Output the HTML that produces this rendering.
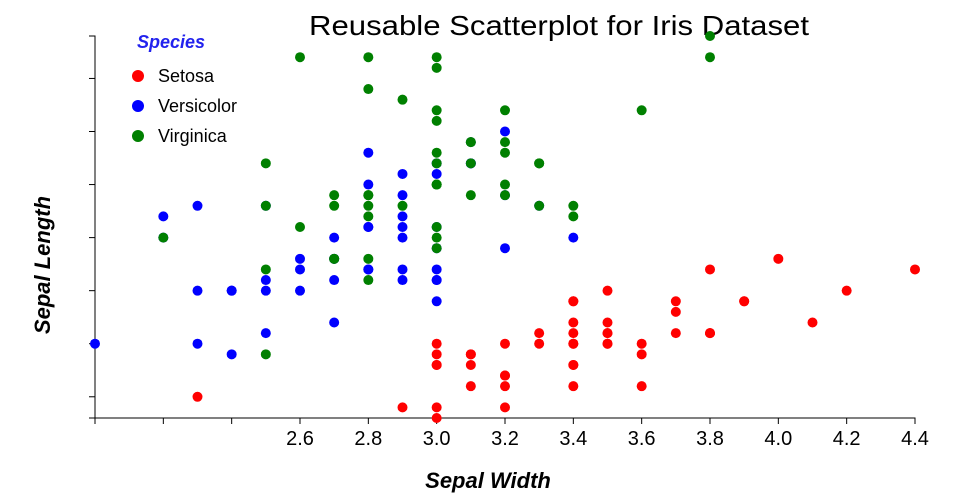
<!DOCTYPE html>
<html><head><meta charset="utf-8"><style>
body{margin:0;background:#fff;}
svg{display:block;font-family:"Liberation Sans",sans-serif;}
</style></head><body>
<svg id="chart" width="960" height="500">
<text x="559" y="35" text-anchor="middle" font-size="28" textLength="500" lengthAdjust="spacingAndGlyphs" fill="#000">Reusable Scatterplot for Iris Dataset</text>
<g id="xaxis"></g>
<g id="yaxis"></g>
<g id="points"></g>
<text x="488" y="488" text-anchor="middle" font-size="22" font-style="italic" font-weight="bold">Sepal Width</text>
<text transform="translate(50,265) rotate(-90)" text-anchor="middle" font-size="22" font-style="italic" font-weight="bold">Sepal Length</text>
<g>
<text x="137" y="48" font-size="18" font-style="italic" font-weight="bold" fill="#2222ee">Species</text>
<g><circle cx="138" cy="76" r="6" fill="red"/><text x="158" y="82" font-size="18">Setosa</text></g>
<g><circle cx="138" cy="106" r="6" fill="blue"/><text x="158" y="112" font-size="18">Versicolor</text></g>
<g><circle cx="138" cy="136" r="6" fill="green"/><text x="158" y="142" font-size="18">Virginica</text></g>
</g>
</svg>
<script>
const xTicks=[2.0,2.2,2.4,2.6,2.8,3.0,3.2,3.4,3.6,3.8,4.0,4.2,4.4];
const xTickLabels=["","","","2.6","2.8","3.0","3.2","3.4","3.6","3.8","4.0","4.2","4.4"];
const yTicks=[4.5,5.0,5.5,6.0,6.5,7.0,7.5];
const setosaLength=[5.1,4.9,4.7,4.6,5.0,5.4,4.6,5.0,4.4,4.9,5.4,4.8,4.8,4.3,5.8,5.7,5.4,5.1,5.7,5.1,5.4,5.1,4.6,5.1,4.8,5.0,5.0,5.2,5.2,4.7,4.8,5.4,5.2,5.5,4.9,5.0,5.5,4.9,4.4,5.1,5.0,4.5,4.4,5.0,5.1,4.8,5.1,4.6,5.3,5.0];
const setosaWidth=[3.5,3.0,3.2,3.1,3.6,3.9,3.4,3.4,2.9,3.1,3.7,3.4,3.0,3.0,4.0,4.4,3.9,3.5,3.8,3.8,3.4,3.7,3.6,3.3,3.4,3.0,3.4,3.5,3.4,3.2,3.1,3.4,4.1,4.2,3.1,3.2,3.5,3.6,3.0,3.4,3.5,2.3,3.2,3.5,3.8,3.0,3.8,3.2,3.7,3.3];
const versicolorLength=[7.0,6.4,6.9,5.5,6.5,5.7,6.3,4.9,6.6,5.2,5.0,5.9,6.0,6.1,5.6,6.7,5.6,5.8,6.2,5.6,5.9,6.1,6.3,6.1,6.4,6.6,6.8,6.7,6.0,5.7,5.5,5.5,5.8,6.0,5.4,6.0,6.7,6.3,5.6,5.5,5.5,6.1,5.8,5.0,5.6,5.7,5.7,6.2,5.1,5.7];
const versicolorWidth=[3.2,3.2,3.1,2.3,2.8,2.8,3.3,2.4,2.9,2.7,2.0,3.0,2.2,2.9,2.9,3.1,3.0,2.7,2.2,2.5,3.2,2.8,2.5,2.8,2.9,3.0,2.8,3.0,2.9,2.6,2.4,2.4,2.7,2.7,3.0,3.4,3.1,2.3,3.0,2.5,2.6,3.0,2.6,2.3,2.7,3.0,2.9,2.9,2.5,2.8];
const virginicaLength=[6.3,5.8,7.1,6.3,6.5,7.6,4.9,7.3,6.7,7.2,6.5,6.4,6.8,5.7,5.8,6.4,6.5,7.7,7.7,6.0,6.9,5.6,7.7,6.3,6.7,7.2,6.2,6.1,6.4,7.2,7.4,7.9,6.4,6.3,6.1,7.7,6.3,6.4,6.0,6.9,6.7,6.9,5.8,6.8,6.7,6.7,6.3,6.5,6.2,5.9];
const virginicaWidth=[3.3,2.7,3.0,2.9,3.0,3.0,2.5,2.9,2.5,3.6,3.2,2.7,3.0,2.5,2.8,3.2,3.0,3.8,2.6,2.2,3.2,2.8,2.8,2.7,3.3,3.2,2.8,3.0,2.8,3.0,2.8,3.8,2.8,2.8,2.6,3.0,3.4,3.1,3.0,3.1,3.1,3.1,2.7,3.2,3.3,3.0,2.5,3.0,3.4,3.0];
const NS="http://www.w3.org/2000/svg";
const X0=95,X1=915,Y0=418,Y1=36,XMIN=2.0,XMAX=4.4,YMIN=4.3,YMAX=7.9;
function sx(v){return X0+(v-XMIN)/(XMAX-XMIN)*(X1-X0);}
function sy(v){return Y0-(v-YMIN)/(YMAX-YMIN)*(Y0-Y1);}
function mk(tag,attrs,parent){const e=document.createElementNS(NS,tag);for(const k in attrs)e.setAttribute(k,attrs[k]);parent.appendChild(e);return e;}
const xa=document.getElementById('xaxis'),ya=document.getElementById('yaxis'),pg=document.getElementById('points');
mk('path',{d:`M${X0},${Y0+6}V${Y0}H${X1}V${Y0+6}`,fill:'none',stroke:'#000'},xa);
xTicks.forEach((t,i)=>{const g=mk('g',{},xa);


mk('line',{x1:sx(t),x2:sx(t),y1:Y0,y2:Y0+6,stroke:'#000'},g);
const tx=mk('text',{x:sx(t),y:Y0+27,'text-anchor':'middle','font-size':20},g);tx.textContent=xTickLabels[i];});
mk('path',{d:`M${X0-6},${Y1}H${X0}V${Y0}H${X0-6}`,fill:'none',stroke:'#000'},ya);
yTicks.forEach(t=>{const l=mk('line',{x1:X0-6,x2:X0,y1:sy(t),y2:sy(t),stroke:'#000'},ya);

});
function draw(L,W,color,name){L.forEach((v,i)=>{const c=mk('circle',{cx:sx(W[i]),cy:sy(v),r:5,fill:color},pg);

});}
draw(setosaLength,setosaWidth,'red','point-setosa');
draw(versicolorLength,versicolorWidth,'blue','point-versicolor');
draw(virginicaLength,virginicaWidth,'green','point-virginica');
</script>
</body></html>
